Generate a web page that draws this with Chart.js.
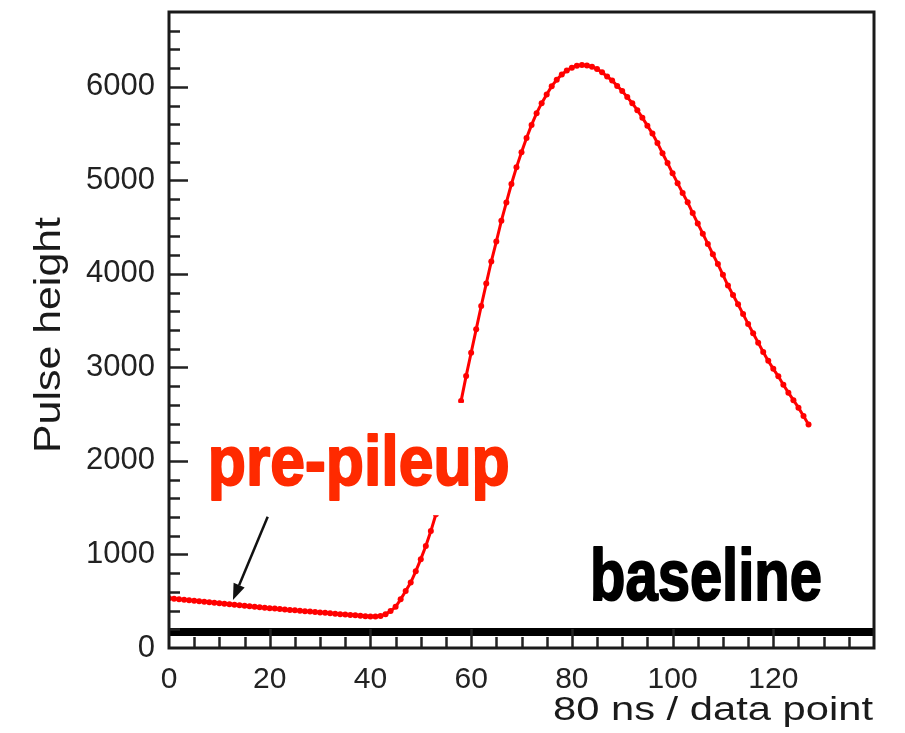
<!DOCTYPE html>
<html>
<head>
<meta charset="utf-8">
<script src="https://cdn.jsdelivr.net/npm/chart.js@4.4.0/dist/chart.umd.min.js"></script>
<style>
  html, body { margin: 0; padding: 0; background: #fff; }
  #wrap { width: 905px; height: 733px; }
</style>
</head>
<body>
<div id="wrap"><canvas id="pulseChart" width="905" height="733"></canvas></div>
<script>
// pulse height, one value per data point (80 ns each)
const pulseHeight = [
  532, 527, 521, 516, 511, 505, 500, 495, 489, 484,
  479, 473, 468, 462, 457, 452, 447, 441, 436, 431,
  425, 421, 416, 412, 407, 403, 398, 394, 389, 385,
  380, 376, 371, 367, 362, 358, 353, 349, 344, 340,
  337, 336, 342, 362, 395, 440, 520, 610, 700, 820,
  950, 1090, 1250, 1430, 1650, 1890, 2140, 2390, 2640, 2907,
  3157, 3407, 3657, 3896, 4132, 4346, 4567, 4764, 4961, 5139,
  5300, 5453, 5593, 5718, 5825, 5918, 6007, 6075, 6132, 6175,
  6205, 6225, 6232, 6228, 6215, 6190, 6155, 6110, 6068, 6010,
  5955, 5890, 5825, 5750, 5670, 5585, 5500, 5400, 5290, 5185,
  5075, 4970, 4865, 4765, 4650, 4540, 4430, 4320, 4210, 4105,
  3990, 3875, 3775, 3675, 3570, 3465, 3365, 3265, 3165, 3070,
  2985, 2905, 2815, 2730, 2650, 2570, 2480, 2390
];
const baselineLevel = 170;
const xTickLabels = [0, 20, 40, 60, 80, 100, 120];
const yTickLabels = [0, 1000, 2000, 3000, 4000, 5000, 6000];

const fontFamily = '"Liberation Sans", Arial, Helvetica, sans-serif';

function drawFitted(ctx, text, font, width, stroke) {
  ctx.font = font;
  const w = ctx.measureText(text).width;
  ctx.save();
  ctx.scale(width / w, 1);
  ctx.fillText(text, 0, 0);
  if (stroke) {
    ctx.lineWidth = stroke;
    ctx.lineJoin = 'round';
    ctx.strokeText(text, 0, 0);
  }
  ctx.restore();
}

// ticks pointing inwards, the frame, the labels and the arrow
const decorPlugin = {
  id: 'decor',
  afterDatasetsDraw(chart) {
    const { ctx, chartArea: a, scales } = chart;
    const xs = scales.x, ys = scales.y;
    ctx.save();

    // white box under "pre-pileup" hides part of the rising edge
    const bx0 = xs.getPixelForValue(6), bx1 = xs.getPixelForValue(70);
    const by0 = ys.getPixelForValue(2620), by1 = ys.getPixelForValue(1420);
    ctx.fillStyle = '#fff';
    ctx.fillRect(bx0, by0, bx1 - bx0, by1 - by0);

    ctx.textAlign = 'left';
    ctx.textBaseline = 'alphabetic';
    ctx.fillStyle = '#ff2a00';
    ctx.strokeStyle = '#ff2a00';
    ctx.save();
    ctx.translate(xs.getPixelForValue(7.7), ys.getPixelForValue(1743));
    drawFitted(ctx, 'pre-pileup', 'bold 70px ' + fontFamily, 302, 2);
    ctx.restore();

    ctx.fillStyle = '#000';
    ctx.strokeStyle = '#000';
    ctx.save();
    ctx.translate(xs.getPixelForValue(83.6), ys.getPixelForValue(513));
    drawFitted(ctx, 'baseline', 'bold 72px ' + fontFamily, 232, 2);
    ctx.restore();

    // arrow
    const ax0 = xs.getPixelForValue(19.6), ay0 = ys.getPixelForValue(1404);
    const ax1 = xs.getPixelForValue(12.7), ay1 = ys.getPixelForValue(514);
    const ang = Math.atan2(ay1 - ay0, ax1 - ax0);
    const head = 16, half = 6;
    ctx.strokeStyle = '#111';
    ctx.fillStyle = '#111';
    ctx.lineWidth = 2.5;
    ctx.beginPath();
    ctx.moveTo(ax0, ay0);
    ctx.lineTo(ax1 - head * Math.cos(ang), ay1 - head * Math.sin(ang));
    ctx.stroke();
    ctx.beginPath();
    ctx.moveTo(ax1, ay1);
    ctx.lineTo(ax1 - head * Math.cos(ang) + half * Math.sin(ang), ay1 - head * Math.sin(ang) - half * Math.cos(ang));
    ctx.lineTo(ax1 - head * Math.cos(ang) - half * Math.sin(ang), ay1 - head * Math.sin(ang) + half * Math.cos(ang));
    ctx.closePath();
    ctx.fill();

    // tick marks
    ctx.strokeStyle = '#222';
    ctx.lineWidth = 2.5;
    ctx.beginPath();
    for (let v = 200; v < 6800; v += 200) {
      const py = Math.round(ys.getPixelForValue(v)) + 0.5;
      const len = v % 1000 === 0 ? 19 : 11;
      ctx.moveTo(a.left, py);
      ctx.lineTo(a.left + len, py);
    }
    for (let v = 5; v < 140; v += 5) {
      const px = Math.round(xs.getPixelForValue(v)) + 0.5;
      const len = v % 20 === 0 ? 19 : 11;
      ctx.moveTo(px, a.bottom);
      ctx.lineTo(px, a.bottom - len);
    }
    ctx.stroke();

    // frame
    ctx.lineWidth = 3;
    ctx.strokeStyle = '#1a1a1a';
    ctx.strokeRect(a.left, a.top, a.right - a.left, a.bottom - a.top);

    // axis titles
    ctx.fillStyle = '#1a1a1a';
    ctx.save();
    ctx.translate(553, 720);
    drawFitted(ctx, '80 ns / data point', '33px ' + fontFamily, 320);
    ctx.restore();

    ctx.save();
    ctx.translate(60, 453);
    ctx.rotate(-Math.PI / 2);
    drawFitted(ctx, 'Pulse height', '37px ' + fontFamily, 236);
    ctx.restore();

    ctx.restore();
  }
};

const ctx = document.getElementById('pulseChart').getContext('2d');
new Chart(ctx, {
  type: 'line',
  data: {
    datasets: [
      {
        label: 'Pulse',
        data: pulseHeight.map((v, i) => ({ x: i, y: v })),
        borderColor: '#ff0000',
        backgroundColor: '#ff0000',
        borderWidth: 3,
        pointRadius: 3,
        pointBorderWidth: 0,
        pointBackgroundColor: '#ff0000',
        tension: 0,
        order: 2
      },
      {
        label: 'Baseline',
        data: [{ x: 0, y: baselineLevel }, { x: 140, y: baselineLevel }],
        borderColor: '#000',
        borderWidth: 8,
        pointRadius: 0,
        order: 1
      }
    ]
  },
  options: {
    responsive: false,
    animation: false,
    layout: { padding: { left: 0, top: 12, right: 31, bottom: 0 } },
    plugins: { legend: { display: false }, tooltip: { enabled: false } },
    scales: {
      x: {
        type: 'linear',
        min: 0,
        max: 140,
        afterBuildTicks: s => { s.ticks = xTickLabels.map(v => ({ value: v })); },
        afterFit: s => { s.height = 85; s.paddingLeft = 0; s.paddingRight = 0; },
        grid: { display: false, drawTicks: false },
        border: { display: false },
        ticks: {
          padding: 14,
          maxRotation: 0,
          color: '#222',
          font: { family: fontFamily, size: 30 },
          callback: v => String(v)
        }
      },
      y: {
        type: 'linear',
        min: 0,
        max: 6800,
        afterBuildTicks: s => { s.ticks = yTickLabels.map(v => ({ value: v })); },
        afterFit: s => { s.width = 169; s.paddingTop = 0; s.paddingBottom = 0; },
        grid: { display: false, drawTicks: false },
        border: { display: false },
        ticks: {
          padding: 14,
          color: '#222',
          font: { family: fontFamily, size: 31 },
          callback: v => String(v)
        }
      }
    }
  },
  plugins: [decorPlugin]
});
</script>
</body>
</html>
